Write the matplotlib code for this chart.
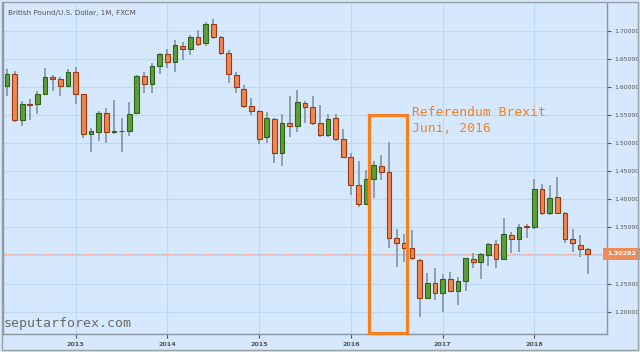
import matplotlib
matplotlib.use('Agg')
import matplotlib.pyplot as plt
from matplotlib.patches import Rectangle
import numpy as np

# monthly GBP/USD candles, Apr 2012 .. Aug 2018
start_year, start_month = 2012, 4
opens = [1.602, 1.623, 1.541, 1.570, 1.569, 1.587, 1.617, 1.614, 1.602,
         1.627, 1.587, 1.517, 1.519, 1.554, 1.520, 1.521, 1.521, 1.554, 1.619, 1.605, 1.638,
         1.659, 1.644, 1.673, 1.667, 1.688, 1.678, 1.712, 1.689, 1.661, 1.622, 1.597, 1.566,
         1.558, 1.510, 1.542, 1.483, 1.535, 1.530, 1.572, 1.564, 1.535, 1.514, 1.545, 1.507,
         1.475, 1.425, 1.392, 1.437, 1.459, 1.448, 1.331, 1.323, 1.313, 1.292, 1.224, 1.251,
         1.233, 1.258, 1.237, 1.255, 1.293, 1.289, 1.300, 1.320, 1.293, 1.336, 1.329, 1.352,
         1.350, 1.418, 1.376, 1.404, 1.375, 1.329, 1.318, 1.312]
highs = [1.632, 1.628, 1.575, 1.578, 1.592, 1.633, 1.622, 1.618, 1.632,
         1.635, 1.588, 1.527, 1.557, 1.562, 1.577, 1.545, 1.574, 1.622, 1.627, 1.642, 1.661,
         1.668, 1.683, 1.680, 1.692, 1.702, 1.715, 1.720, 1.690, 1.666, 1.627, 1.603, 1.580,
         1.559, 1.556, 1.544, 1.551, 1.583, 1.594, 1.575, 1.584, 1.568, 1.552, 1.552, 1.525,
         1.483, 1.469, 1.452, 1.468, 1.479, 1.502, 1.348, 1.338, 1.345, 1.294, 1.268, 1.278,
         1.267, 1.271, 1.262, 1.296, 1.304, 1.304, 1.323, 1.328, 1.366, 1.341, 1.356, 1.356,
         1.436, 1.428, 1.425, 1.439, 1.378, 1.347, 1.336, 1.314]
lows = [1.583, 1.538, 1.530, 1.541, 1.552, 1.587, 1.593, 1.584, 1.600,
        1.569, 1.509, 1.485, 1.504, 1.501, 1.517, 1.484, 1.513, 1.553, 1.590, 1.589, 1.623,
        1.633, 1.627, 1.648, 1.657, 1.672, 1.673, 1.686, 1.657, 1.607, 1.590, 1.562, 1.550,
        1.498, 1.501, 1.465, 1.459, 1.511, 1.520, 1.536, 1.532, 1.511, 1.511, 1.503, 1.474,
        1.408, 1.386, 1.391, 1.402, 1.434, 1.313, 1.280, 1.288, 1.292, 1.191, 1.222, 1.220,
        1.200, 1.235, 1.212, 1.237, 1.278, 1.259, 1.282, 1.278, 1.292, 1.304, 1.306, 1.332,
        1.347, 1.372, 1.372, 1.373, 1.322, 1.306, 1.297, 1.267]
closes = [1.623, 1.541, 1.570, 1.568, 1.587, 1.617, 1.614, 1.602, 1.627,
          1.587, 1.517, 1.521, 1.554, 1.520, 1.521, 1.521, 1.551, 1.619, 1.605, 1.638, 1.659,
          1.644, 1.675, 1.667, 1.688, 1.676, 1.712, 1.688, 1.661, 1.623, 1.600, 1.566, 1.558,
          1.507, 1.544, 1.483, 1.535, 1.530, 1.573, 1.564, 1.535, 1.514, 1.542, 1.507, 1.475,
          1.425, 1.392, 1.436, 1.461, 1.449, 1.331, 1.322, 1.313, 1.296, 1.224, 1.251, 1.233,
          1.258, 1.237, 1.255, 1.295, 1.289, 1.302, 1.320, 1.293, 1.339, 1.329, 1.351, 1.351,
          1.418, 1.376, 1.402, 1.375, 1.330, 1.322, 1.312, 1.30282]
year_labels = ['2013', '2014', '2015', '2016', '2017', '2018']
price_ticks = [1.20, 1.25, 1.30, 1.35, 1.40, 1.45, 1.50, 1.55, 1.60, 1.65, 1.70]
last_price = 1.30282

bg = '#d5e8fd'
grid_c = '#bcd9f7'
up_fill, up_edge = '#5e9c3d', '#2f6416'
dn_fill, dn_edge = '#ef8753', '#9c3a10'
wick_c = '#8899aa'
note_c = '#f7801f'

fig, ax = plt.subplots(figsize=(6.4, 3.52), dpi=100)
fig.patch.set_facecolor(bg)
ax.set_facecolor(bg)
ax.set_position([3/640, 18/352, 604/640, 331/352])

x = np.arange(len(closes))
o = np.array(opens); h = np.array(highs); l = np.array(lows); c = np.array(closes)
up = c >= o

ax.vlines(x, l, h, color=wick_c, lw=1.3, zorder=2)
body_lo = np.minimum(o, c)
body_h = np.maximum(np.abs(c - o), 0.0012)
ax.bar(x[up], body_h[up], bottom=body_lo[up], width=0.62, color=up_fill,
       edgecolor=up_edge, linewidth=0.8, zorder=3)
ax.bar(x[~up], body_h[~up], bottom=body_lo[~up], width=0.62, color=dn_fill,
       edgecolor=dn_edge, linewidth=0.8, zorder=3)

# axes ranges (month index, price)
ax.set_xlim(-0.51, 78.51)
ax.set_ylim(1.1603, 1.7493)

year_pos = [(int(y) - start_year) * 12 + 1 - start_month for y in year_labels]
ax.set_xticks(year_pos)
ax.set_xticklabels(year_labels)
ax.set_yticks(price_ticks)
# the 1.30 label sits under the current price tag
ax.set_yticklabels(['' if abs(p - last_price) < 0.02 else f'{p:.5f}' for p in price_ticks])
ax.yaxis.tick_right()
ax.tick_params(axis='y', labelsize=4.4, colors='#555555', length=3, width=0.8, pad=2)
ax.tick_params(axis='x', labelsize=4.6, colors='#555555', length=3, width=0.8, pad=3)
for t in ax.get_xticklabels():
    t.set_fontweight('bold')
ax.grid(True, color=grid_c, lw=0.8, zorder=0)
ax.set_axisbelow(True)

for s in ['left', 'bottom', 'right']:
    ax.spines[s].set_color('#8c96a0')
    ax.spines[s].set_linewidth(1.0)
ax.spines['top'].set_visible(False)

# current price line and label
ax.axhline(last_price, color='#e99a86', lw=0.8, ls=(0, (1, 1)), zorder=1)
ax.text(1.0, last_price, f'{last_price:.5f}', transform=ax.get_yaxis_transform(),
        ha='left', va='center', fontsize=4.6, color='white', fontweight='bold',
        bbox=dict(boxstyle='square,pad=0.55', fc='#f08a5b', ec='none'), clip_on=False)

# Brexit box and note
ax.add_patch(Rectangle((47.34, 1.1618), 52.32 - 47.34, 1.5502 - 1.1618, fill=False,
                       ec=note_c, lw=2.3, zorder=5, clip_on=False))
ax.text(53.0, 1.5205, 'Referendum Brexit\nJuni, 2016', fontsize=9.4, family='DejaVu Sans Mono',
        color=note_c, ha='left', va='baseline', linespacing=1.3, zorder=6)

fig.text(8/640, 1 - 12.5/352, 'British Pound/U.S. Dollar, 1M, FXCM', fontsize=5.2,
         color='#555555', ha='left', va='center')
fig.text(4/640, 1 - 327/352, 'seputarforex.com', fontsize=9.5, family='DejaVu Sans Mono',
         color='#6a6a6a', ha='left', va='baseline')

fig.patches.append(Rectangle((2/640, 2/352), 636/640, 348/352, transform=fig.transFigure,
                             fill=False, ec='#9aa0a8', lw=1.0))

fig.savefig('out.png', dpi=100, facecolor=bg)
